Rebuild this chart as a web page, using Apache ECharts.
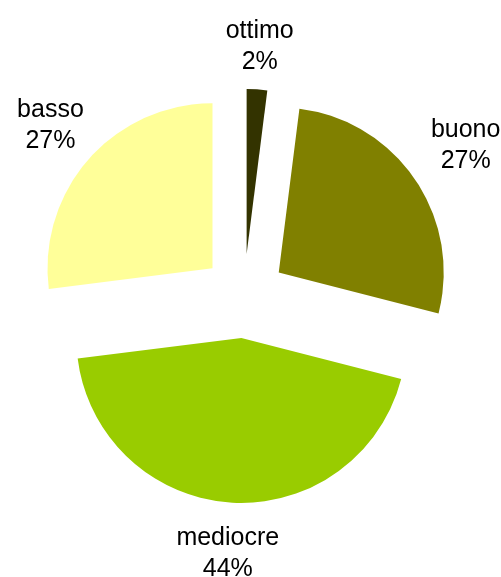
<!DOCTYPE html>
<html>
<head>
<meta charset="utf-8">
<script src="https://cdn.jsdelivr.net/npm/echarts@6/dist/echarts.min.js"></script>
<style>
  html, body { margin: 0; padding: 0; background: #fff; }
  #chart { width: 501px; height: 577px; }
</style>
</head>
<body>
<div id="chart"></div>
<script>
const categories = ['ottimo', 'buono', 'mediocre', 'basso']
const shares = [2, 27, 44, 27]
const sliceColors = ['#333300', '#808000', '#99cc00', '#ffff99']
// how far each label sits outside its slice
const labelGaps = [43, 61, 51, 51]

const chart = echarts.init(document.getElementById('chart'))

const option = {
  animation: false,
  backgroundColor: '#ffffff',
  series: [
    {
      type: 'pie',
      center: [244, 296],
      radius: [0, 165],
      startAngle: 90,
      clockwise: true,
      avoidLabelOverlap: false,
      selectedMode: 'multiple',
      selectedOffset: 42,
      emphasis: { scale: false },
      itemStyle: { borderWidth: 0 },
      label: {
        show: true,
        position: 'outside',
        formatter: '{b}\n{d}%',
        fontFamily: 'Liberation Sans, Arial, sans-serif',
        fontSize: 25,
        lineHeight: 31,
        color: '#000',
        distanceToLabelLine: 0,
      },
      labelLine: { show: false, length: 48, length2: 0 },
      labelLayout: () => ({ align: 'center' }),
      data: categories.map((name, i) => ({
        name: name,
        value: shares[i],
        selected: true,
        itemStyle: { color: sliceColors[i] },
        labelLine: { length: labelGaps[i] },
      })),
    },
  ],
}

chart.setOption(option)
</script>
</body>
</html>
